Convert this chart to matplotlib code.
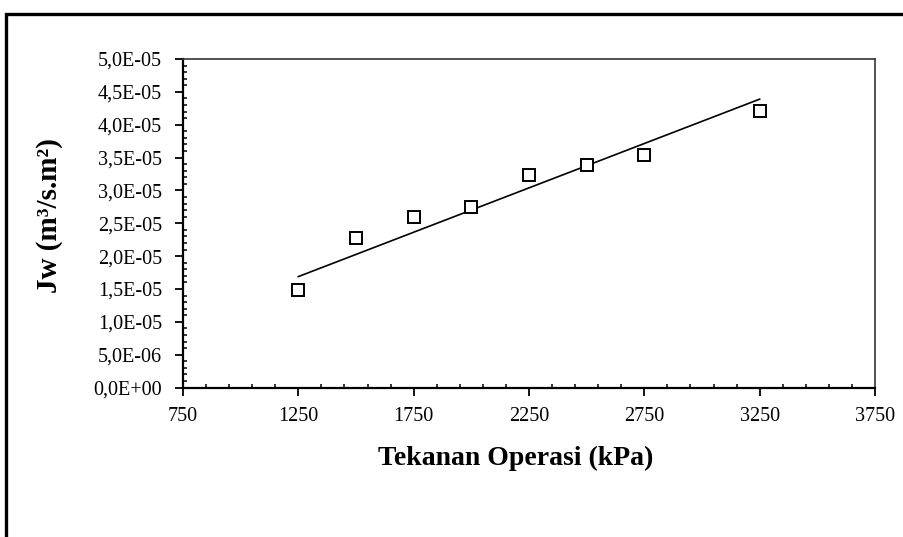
import matplotlib.pyplot as plt
import numpy as np
from matplotlib.ticker import MultipleLocator, FixedLocator, FuncFormatter
from matplotlib.patches import Rectangle

plt.rcParams['font.family'] = ['Liberation Serif', 'DejaVu Serif']

tekanan = [1250, 1500, 1750, 2000, 2250, 2500, 2750, 3250]
jw = [1.48e-5, 2.27e-5, 2.60e-5, 2.75e-5, 3.23e-5, 3.38e-5, 3.54e-5, 4.21e-5]
x_ticks = [750, 1250, 1750, 2250, 2750, 3250, 3750]

x = np.array(tekanan, dtype=float)
y = np.array(jw)
# linear trendline forced through zero
slope = np.sum(x * y) / np.sum(x * x)
xl = np.array([x.min(), x.max()])

fig = plt.figure(figsize=(9.04, 5.37), dpi=100)
fig.patches.append(Rectangle((6 / 904, -0.1), 1.2, (537 - 14) / 537 + 0.1,
                             transform=fig.transFigure, fill=False,
                             edgecolor='black', linewidth=2.4))
ax = fig.add_axes([183 / 904, (537 - 387.5) / 537, (875 - 183) / 904, (387.5 - 59) / 537])

ax.plot(xl, slope * xl, color='black', linewidth=1.2)
ax.plot(x, y, linestyle='none', marker='s', markersize=8, markerfacecolor='white',
        markeredgecolor='black', markeredgewidth=1.4)

ax.set_xlim(750, 3750)
ax.set_ylim(0, 5e-5)
ax.xaxis.set_major_locator(FixedLocator(x_ticks))
ax.xaxis.set_minor_locator(MultipleLocator(100, offset=50))
ax.yaxis.set_major_locator(MultipleLocator(5e-6))
ax.yaxis.set_minor_locator(MultipleLocator(1e-6))
ax.yaxis.set_major_formatter(FuncFormatter(lambda v, p: f"{v:.1E}".replace('.', ',')))

ax.tick_params(which='major', direction='out', length=6, width=1.3, labelsize=14.5)
ax.tick_params(axis='y', which='major', pad=9)
ax.tick_params(axis='x', which='major', pad=8)
ax.tick_params(which='minor', direction='in', length=3, width=1.1)
ax.tick_params(right=False, top=False)

for s in ['left', 'bottom']:
    ax.spines[s].set_linewidth(1.6)
for s in ['right', 'top']:
    ax.spines[s].set_linewidth(1.2)
    ax.spines[s].set_color('#333333')

ax.set_xlabel('Tekanan Operasi (kPa)', fontsize=20, fontweight='bold', va='center')
ax.set_ylabel('Jw (m³/s.m²)', fontsize=21, fontweight='bold', va='center')
ax.xaxis.set_label_coords(0.481, -0.215)
ax.yaxis.set_label_coords(-0.193, 0.522)

fig.savefig('out.png', dpi=100)
